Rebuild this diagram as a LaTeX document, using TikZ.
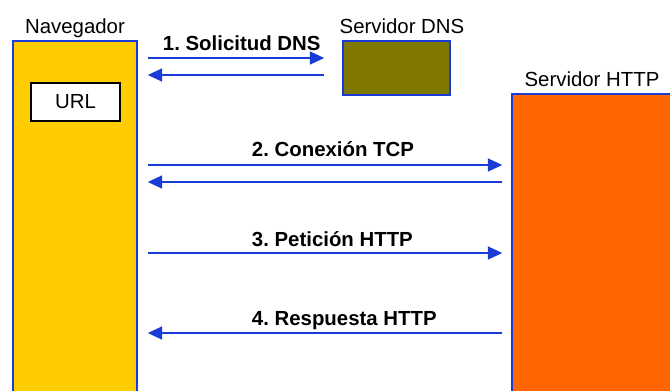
\documentclass[tikz,border=0pt]{standalone}
\usepackage{fontspec}
\setmainfont{Liberation Sans}
\usetikzlibrary{positioning, arrows.meta}
\definecolor{azul}{RGB}{25,60,215}
\definecolor{amarillo}{RGB}{255,204,0}
\definecolor{oliva}{RGB}{128,120,0}
\definecolor{naranja}{RGB}{255,102,0}
\frenchspacing

\begin{document}
\begin{tikzpicture}[x=0.025cm, y=-0.025cm, >={Triangle[length=0.36cm, width=0.32cm]},
          caja/.style={draw=azul, line width=1pt, rectangle, inner sep=0pt},
          msg/.style={->, draw=azul, line width=1.5pt},
          etiq/.style={font=\fontsize{14.5}{16}\selectfont, anchor=base},
          paso/.style={font=\fontsize{14.5}{16}\selectfont\bfseries, anchor=base west}
        ]
        \useasboundingbox (0,0) rectangle (670,390);
        \clip (0,0) rectangle (670,390);

        \node[caja, fill=amarillo, minimum width=3.1cm, minimum height=8.975cm] (nav) at (75,220.5) {};
        \node[draw=black, fill=white, line width=1.2pt, minimum width=2.225cm, minimum height=0.95cm,
              font=\fontsize{14.5}{16}\selectfont] (url) at (75.5,102) {URL};
        \node[caja, fill=oliva, minimum width=2.675cm, minimum height=1.35cm] (dns) at (396.5,68) {};
        \node[caja, fill=naranja, minimum width=4.2cm, minimum height=7.65cm] (http) at (596,247) {};

        \node[etiq] (tnav)  at (75,33)  {Navegador};
        \node[etiq] (tdns)  at (402,33) {Servidor DNS};
        \node[etiq] (thttp) at (592,86) {Servidor HTTP};

        \coordinate (f1a) at (0,58);
        \coordinate (f1b) at (0,75);
        \coordinate (f2a) at (0,165);
        \coordinate (f2b) at (0,182);
        \coordinate (f3)  at (0,253);
        \coordinate (f4)  at (0,333);

        % DNS
        \draw[msg, shorten <=0.25cm, shorten >=0.45cm] (nav.east |- f1a) -- (dns.west |- f1a);
        \draw[msg, shorten >=0.25cm, shorten <=0.45cm] (dns.west |- f1b) -- (nav.east |- f1b);
        \node[paso] (p1) at (158,50) {1. Solicitud DNS};

        % HTTP
        \draw[msg, shorten <=0.25cm, shorten >=0.225cm] (nav.east |- f2a) -- (http.west |- f2a);
        \draw[msg, shorten >=0.25cm, shorten <=0.225cm] (http.west |- f2b) -- (nav.east |- f2b);
        \node[paso] (p2) at (247,156) {2. Conexión TCP};

        \draw[msg, shorten <=0.25cm, shorten >=0.225cm] (nav.east |- f3) -- (http.west |- f3);
        \node[paso] (p3) at (247,246) {3. Petición HTTP};

        \draw[msg, shorten >=0.25cm, shorten <=0.225cm] (http.west |- f4) -- (nav.east |- f4);
        \node[paso] (p4) at (247,325) {4. Respuesta HTTP};
      \end{tikzpicture}
\end{document}
